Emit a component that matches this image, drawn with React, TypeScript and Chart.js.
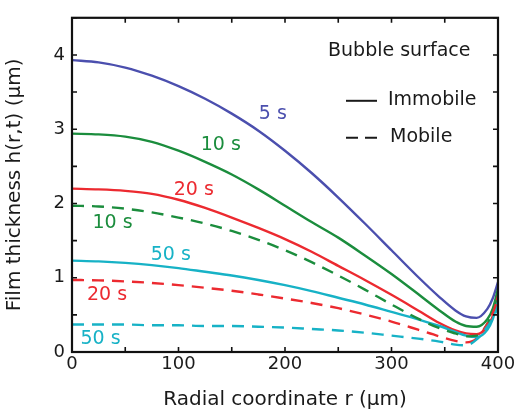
import { useEffect, useRef } from 'react';
import { Chart, registerables } from 'chart.js';

Chart.register(...registerables);

// radial coordinate r (µm)
const radius = [0, 25, 50, 75, 100, 125, 150, 175, 200, 225, 250, 275, 300, 325, 345, 360, 370, 380, 390, 395, 400];

// immobile bubble surface (solid)
const immobile5s = [3.93, 3.9, 3.83, 3.72, 3.58, 3.41, 3.21, 2.98, 2.71, 2.41, 2.08, 1.73, 1.37, 1.01, 0.74, 0.56, 0.48, 0.46, 0.58, 0.72, 0.94];
const immobile10s = [2.94, 2.93, 2.9, 2.83, 2.71, 2.56, 2.39, 2.19, 1.97, 1.75, 1.54, 1.3, 1.05, 0.78, 0.56, 0.41, 0.35, 0.34, 0.44, 0.58, 0.85];
const immobile20s = [2.2, 2.19, 2.17, 2.13, 2.05, 1.94, 1.81, 1.67, 1.52, 1.35, 1.16, 0.97, 0.77, 0.56, 0.39, 0.29, 0.25, 0.24, 0.34, 0.48, 0.76];
const immobile50s = [1.23, 1.22, 1.2, 1.17, 1.13, 1.08, 1.03, 0.97, 0.9, 0.82, 0.73, 0.64, 0.54, 0.44, 0.35, 0.27, 0.22, 0.2, 0.3, 0.44, 0.69];

// mobile bubble surface (dashed)
const mobile10s = [1.97, 1.96, 1.93, 1.88, 1.81, 1.73, 1.63, 1.51, 1.37, 1.21, 1.03, 0.84, 0.64, 0.45, 0.32, 0.25, 0.21, 0.22, 0.38, 0.55, 0.8];
const mobile20s = [0.97, 0.965, 0.95, 0.93, 0.9, 0.865, 0.825, 0.775, 0.72, 0.66, 0.59, 0.505, 0.41, 0.3, 0.21, 0.15, 0.13, 0.18, 0.38, 0.52, 0.73];
const mobile50s = [0.37, 0.37, 0.37, 0.36, 0.36, 0.35, 0.35, 0.34, 0.33, 0.31, 0.29, 0.26, 0.22, 0.18, 0.14, 0.1, 0.09, 0.17, 0.34, 0.45, 0.6];

const xTickLabels = [0, 100, 200, 300, 400];
const yTickLabels = [0, 1, 2, 3, 4];

// curve annotations (text, r, h)
const curveLabelText = ['5 s', '10 s', '20 s', '10 s', '50 s', '20 s', '50 s'];
const curveLabelR = [188.6, 139.7, 114.3, 38.1, 92.7, 32.9, 26.8];
const curveLabelH = [3.21, 2.79, 2.18, 1.73, 1.31, 0.76, 0.17];

const BLUE = '#4b4fae';
const GREEN = '#1b8d3d';
const RED = '#ec2a30';
const CYAN = '#17b2c6';
const TEXT = '#1a1a1a';
const FONT = '"DejaVu Sans", sans-serif';

const curveLabelColor = [BLUE, GREEN, RED, GREEN, CYAN, RED, CYAN];

function toPoints(values: number[]) {
  return radius.map((r, i) => ({ x: r, y: values[i] }));
}

const framePlugin = {
  id: 'frameTicks',
  afterDatasetsDraw(chart: any) {
    const { ctx, chartArea, scales } = chart;
    const { left, right, top, bottom } = chartArea;
    const xs = scales.x;
    const ys = scales.y;
    ctx.save();
    ctx.strokeStyle = '#111';
    ctx.lineWidth = 1.6;
    xs.ticks.forEach((t: any) => {
      const px = xs.getPixelForValue(t.value);
      ctx.beginPath();
      ctx.moveTo(px, bottom);
      ctx.lineTo(px, bottom - 5);
      ctx.moveTo(px, top);
      ctx.lineTo(px, top + 5);
      ctx.stroke();
    });
    ys.ticks.forEach((t: any) => {
      const py = ys.getPixelForValue(t.value);
      ctx.beginPath();
      ctx.moveTo(left, py);
      ctx.lineTo(left + 5, py);
      ctx.moveTo(right, py);
      ctx.lineTo(right - 5, py);
      ctx.stroke();
    });
    ctx.lineWidth = 2.2;
    ctx.strokeRect(left, top, right - left, bottom - top);

    // curve labels
    ctx.font = `19px ${FONT}`;
    ctx.textAlign = 'center';
    ctx.textBaseline = 'middle';
    curveLabelText.forEach((txt, i) => {
      ctx.fillStyle = curveLabelColor[i];
      ctx.fillText(txt, xs.getPixelForValue(curveLabelR[i]), ys.getPixelForValue(curveLabelH[i]));
    });

    // line-style legend
    ctx.fillStyle = TEXT;
    ctx.textAlign = 'left';
    ctx.fillText('Bubble surface', right - 170, top + 33);
    ctx.fillText('Immobile', right - 110, top + 82);
    ctx.fillText('Mobile', right - 108, top + 119);
    ctx.strokeStyle = TEXT;
    ctx.lineWidth = 2;
    ctx.beginPath();
    ctx.moveTo(right - 152, top + 83);
    ctx.lineTo(right - 121, top + 83);
    ctx.stroke();
    ctx.setLineDash([12, 7]);
    ctx.beginPath();
    ctx.moveTo(right - 152, top + 120);
    ctx.lineTo(right - 121, top + 120);
    ctx.stroke();
    ctx.restore();
  },
};

export default function App() {
  const canvasRef = useRef<HTMLCanvasElement | null>(null);

  useEffect(() => {
    if (!canvasRef.current) return;
    const solid = (label: string, data: number[], color: string) => ({
      label,
      data: toPoints(data),
      borderColor: color,
      borderWidth: 2.4,
      pointRadius: 0,
      cubicInterpolationMode: 'monotone' as const,
      fill: false,
    });
    const dashed = (label: string, data: number[], color: string) => ({
      ...solid(label, data, color),
      borderDash: [12, 8],
    });
    const chart = new Chart(canvasRef.current, {
      type: 'line',
      data: {
        datasets: [
          dashed('Mobile 50 s', mobile50s, CYAN),
          dashed('Mobile 20 s', mobile20s, RED),
          dashed('Mobile 10 s', mobile10s, GREEN),
          solid('Immobile 50 s', immobile50s, CYAN),
          solid('Immobile 20 s', immobile20s, RED),
          solid('Immobile 10 s', immobile10s, GREEN),
          solid('Immobile 5 s', immobile5s, BLUE),
        ],
      },
      options: {
        responsive: false,
        animation: false,
        layout: { padding: { top: 15, right: 21, left: 0, bottom: 0 } },
        plugins: {
          legend: { display: false },
          tooltip: { enabled: false },
        },
        scales: {
          x: {
            type: 'linear',
            min: 0,
            max: 400,
            grid: { display: false, drawTicks: false },
            border: { display: false },
            ticks: {
              stepSize: 50,
              autoSkip: false,
              maxRotation: 0,
              padding: 2,
              color: TEXT,
              font: { family: FONT, size: 18 },
              callback: (v: any) => (xTickLabels.includes(Number(v)) ? String(v) : ''),
            },
            title: {
              display: true,
              text: 'Radial coordinate r (μm)',
              color: TEXT,
              font: { family: FONT, size: 20 },
              padding: { top: 0, bottom: -3 },
            },
            afterFit: (s: any) => {
              s.height = 57;
            },
          },
          y: {
            type: 'linear',
            min: 0,
            max: 4.5,
            grid: { display: false, drawTicks: false },
            border: { display: false },
            ticks: {
              stepSize: 0.5,
              autoSkip: false,
              padding: 7,
              color: TEXT,
              font: { family: FONT, size: 18 },
              callback: (v: any) => (yTickLabels.includes(Number(v)) ? String(v) : ''),
            },
            title: {
              display: true,
              text: 'Film thickness h(r,t) (μm)',
              color: TEXT,
              font: { family: FONT, size: 20 },
              padding: { top: 3, bottom: 0 },
            },
            afterFit: (s: any) => {
              s.width = 72;
            },
          },
        },
      },
      plugins: [framePlugin],
    });
    return () => chart.destroy();
  }, []);

  return (
    <div style={{ position: 'fixed', left: 0, top: 0, width: 519, height: 409, background: '#fff' }}>
      <canvas ref={canvasRef} width={519} height={409} />
    </div>
  );
}
